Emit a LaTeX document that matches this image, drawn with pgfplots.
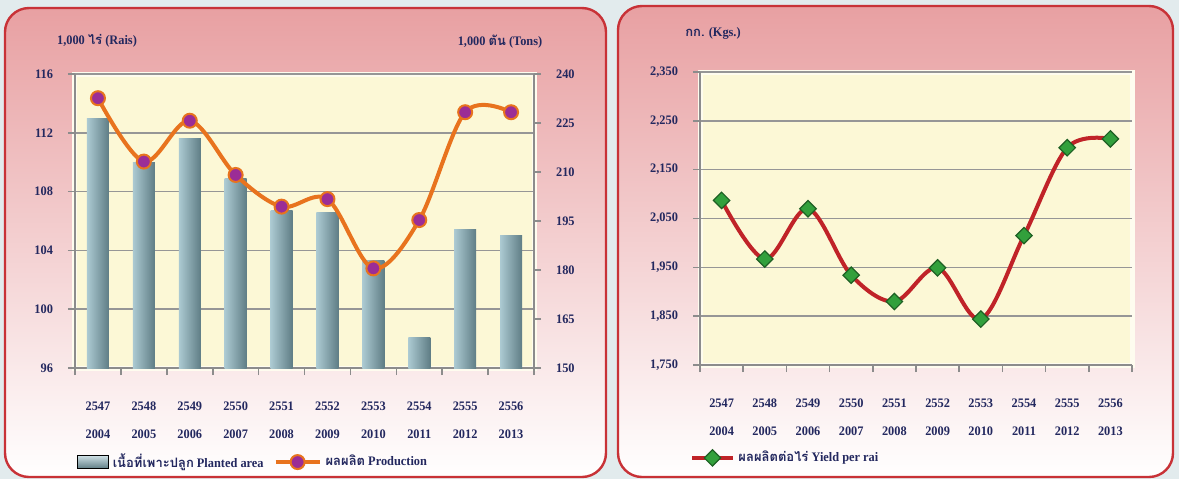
\documentclass[border=0pt]{standalone}
\usepackage{pgfplots}
\pgfplotsset{compat=1.18}
\usepackage{fontspec}
\setmainfont{Liberation Serif}[FakeStretch=0.95]
\newfontfamily\thai[Script=Thai]{Loma}

\definecolor{bgcol}{RGB}{226,235,237}
\definecolor{panelpink}{RGB}{232,160,162}
\definecolor{panelred}{RGB}{200,50,55}
\definecolor{plotbg}{RGB}{252,248,214}
\definecolor{gridgray}{RGB}{150,150,150}
\definecolor{axisgray}{RGB}{140,140,140}
\definecolor{navy}{RGB}{35,40,95}
\definecolor{prodorange}{RGB}{232,115,30}
\definecolor{prodpurple}{RGB}{155,45,150}
\definecolor{yieldred}{RGB}{192,35,40}
\definecolor{yieldgreen}{RGB}{50,160,60}
\definecolor{barlight}{RGB}{172,202,210}
\definecolor{bardark}{RGB}{95,125,133}

\newcommand\tf{\fontsize{6.5}{7.5}\selectfont\bfseries}

\pgfplotsset{
  common/.style={
    anchor=south west, scale only axis,
    xmin=-0.5, xmax=9.5,
    /pgf/number format/assume math mode=true,
    axis line style={draw=axisgray, line width=1pt},
    tick style={draw=axisgray, line width=0.8pt},
    major tick length=3.5pt, minor tick length=3.5pt,
    xtick align=outside, ytick align=outside,
    yticklabel style={font=\tf, text=navy},
    xticklabel style={font=\fontsize{6.5}{14}\selectfont\bfseries, text=navy, align=center, yshift=-10pt},
    legend style={draw=none, fill=none, font=\tf, text=navy, anchor=center,
      /tikz/every even column/.append style={column sep=3pt}},
  },
  plotarea/.style={
    axis background/.style={fill=plotbg, draw=plotbg!40!white, line width=2.5pt},
  },
  yearlabels/.style={
    xtick={0,...,9},
    xticklabels={{2547\\2004},{2548\\2005},{2549\\2006},{2550\\2007},{2551\\2008},
                 {2552\\2009},{2553\\2010},{2554\\2011},{2555\\2012},{2556\\2013}},
    major x tick style={draw=none},
    minor xtick={-0.5,0.5,...,9.5},
    minor x tick style={draw=axisgray, line width=0.8pt},
  },
  lineleg/.style={legend image code/.code={
    \draw[mark repeat=2, mark phase=2, ##1] plot coordinates {(0pt,0pt) (#1/2,0pt) (#1,0pt)};}},
  barleg/.style={legend image code/.code={
    \shade[top color=barlight!60!white, bottom color=bardark]
      (0pt,-3.2pt) rectangle (15.5pt,3.2pt);}},
}

\pgfplotstableread{
x area prod
0 113.0 232.6
1 110.0 213.2
2 111.6 225.7
3 108.9 209.1
4 106.7 199.4
5 106.6 201.7
6 103.3 180.5
7 98.1 195.3
8 105.4 228.3
9 105.0 228.3
}\leftdata

\pgfplotstableread{
x yield
0 2087
1 1967
2 2070
3 1934
4 1880
5 1949
6 1844
7 2015
8 2195
9 2213
}\rightdata

\begin{document}
\begin{tikzpicture}
\fill[bgcol] (0,0) rectangle (589.5pt,239.5pt);
\path[use as bounding box] (0,0) rectangle (589.5pt,239.5pt);

% panels
\shade[top color=panelpink, bottom color=white, rounded corners=12pt]
  (2.5pt,1pt) rectangle (303pt,235.5pt);
\draw[panelred, line width=1.2pt, rounded corners=12pt]
  (2.5pt,1pt) rectangle (303pt,235.5pt);
\shade[top color=panelpink, bottom color=white, rounded corners=12pt]
  (309pt,1pt) rectangle (586.5pt,236.5pt);
\draw[panelred, line width=1.2pt, rounded corners=12pt]
  (309pt,1pt) rectangle (586.5pt,236.5pt);

% left chart: planted area (bars)
\begin{axis}[common, yearlabels, plotarea,
  at={(37.5pt,55.5pt)}, width=229.5pt, height=147pt,
  axis x line*=bottom, axis y line*=left,
  ymin=96, ymax=116, ytick={96,100,...,116},
  ymajorgrids, major grid style={draw=gridgray, line width=0.8pt},
  yticklabel style={xshift=-4pt},
]
\pgfplotsinvokeforeach{0,...,9}{
\addplot[ybar, bar width=11pt, bar shift=0pt, draw=none,
  left color=barlight, right color=bardark,
  restrict x to domain=#1:#1]
  table[x=x, y=area] {\leftdata};
}
\end{axis}

% left chart: production (line, right axis)
\begin{axis}[common,
  at={(37.5pt,55.5pt)}, width=229.5pt, height=147pt,
  axis x line=none, axis y line*=right,
  ymin=150, ymax=240, ytick={150,165,...,240},
  yticklabel style={xshift=4pt},
  legend columns=2, legend style={at={(0.39,-0.32)}},
]
\addlegendimage{barleg}
\addlegendentry{{\thai เนื้อที่เพาะปลูก} Planted area}
\addplot[smooth, tension=0.55, prodorange, line width=2pt,
  mark=*, mark size=3.5pt,
  mark options={fill=prodpurple, draw=prodorange, line width=1pt},
  lineleg=22pt]
  table[x=x, y=prod] {\leftdata};
\addlegendentry{{\thai ผลผลิต} Production}
\end{axis}

\node[font=\tf, text=navy] at (48.5pt,219pt) {1,000 {\thai ไร่} (Rais)};
\node[font=\tf, text=navy] at (250pt,218.5pt) {1,000 {\thai ตัน} (Tons)};

% right chart: yield per rai
\begin{axis}[common, yearlabels, plotarea,
  at={(350pt,57pt)}, width=216pt, height=146.5pt,
  axis x line*=bottom, axis y line*=left,
  ymin=1750, ymax=2350, ytick={1750,1850,...,2350},
  /pgf/number format/1000 sep={,},
  ymajorgrids, major grid style={draw=gridgray, line width=0.8pt},
  yticklabel style={xshift=-4pt},
  legend style={at={(0.20,-0.317)}},
]
\addplot[smooth, tension=0.55, yieldred, line width=2pt,
  mark=square*, mark size=2.9pt,
  mark options={rotate=45, fill=yieldgreen, draw=yieldgreen!60!black, line width=0.6pt},
  lineleg=20pt]
  table[x=x, y=yield] {\rightdata};
\addlegendentry{{\thai ผลผลิตต่อไร่} Yield per rai}
\end{axis}

\node[font=\tf, text=navy] at (356.5pt,223pt) {{\thai กก.} (Kgs.)};
\end{tikzpicture}
\end{document}
